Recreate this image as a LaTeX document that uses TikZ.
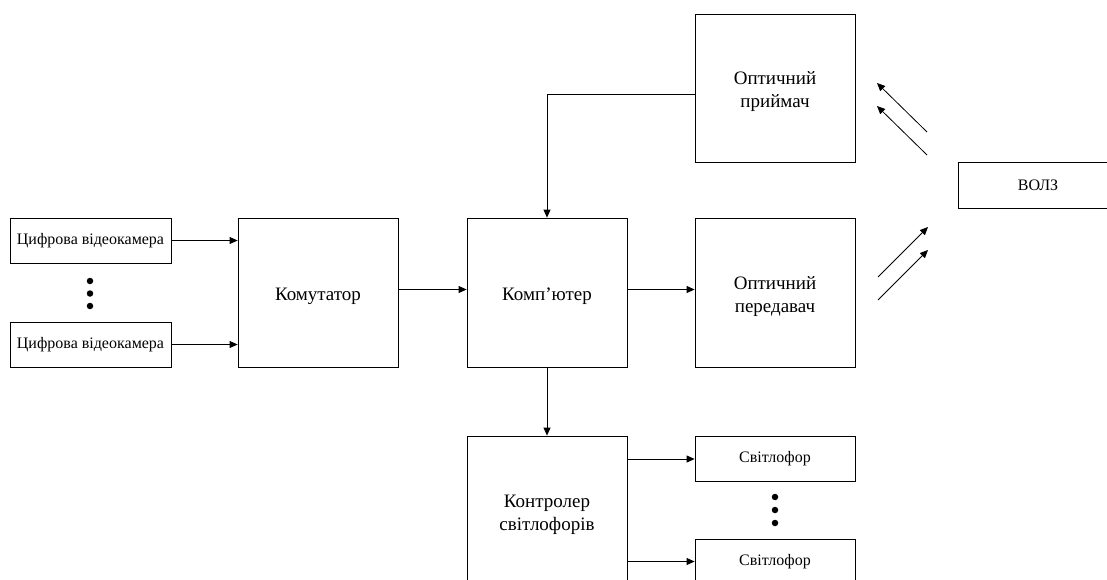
\documentclass[tikz,border=0pt]{standalone}
\usepackage{fontspec}
\setmainfont{Liberation Serif}
\usetikzlibrary{arrows.meta,calc}
\begin{document}
\begin{tikzpicture}[x=1pt,y=-1pt,
  box/.style={draw,line width=0.8pt,inner sep=0pt,align=center,font=\fontsize{19}{22}\selectfont},
  bigbox/.style={box,minimum width=160pt,minimum height=149pt},
  lbl/.style={align=center,font=\fontsize{19}{23}\selectfont,yshift=-4pt,inner sep=0pt},
  smallbox/.style={box,minimum width=161pt,minimum height=45pt,font=\fontsize{16}{18}\selectfont},
  conn/.style={line width=0.8pt,-{Triangle[length=8pt,width=7pt]}},
  dot/.style={circle,fill,inner sep=0pt,minimum size=6.5pt}]
\clip (0,0) rectangle (1107,580);
\useasboundingbox (0,0) rectangle (1107,580);
\node[smallbox] (cam1) at (90.5,240.5) {Цифрова відеокамера};
\node[smallbox] (cam2) at (90.5,344.5) {Цифрова відеокамера};
\node[dot] (d1) at (90,281) {};
\node[dot] (d2) at (90,293.5) {};
\node[dot] (d3) at (90,306) {};
\node[bigbox,label={[lbl]center:Комутатор}] (kom) at (318,292.5) {};
\node[bigbox,label={[lbl]center:Комп’ютер}] (pc) at (547,292.5) {};
\node[bigbox,label={[lbl]center:{Оптичний\\передавач}}] (tx) at (775,292.5) {};
\node[bigbox,minimum height=148pt,label={[lbl]center:{Оптичний\\приймач}}] (rx) at (775,88) {};
\node[bigbox,label={[lbl]center:{Контролер\\світлофорів}}] (ctrl) at (547,510.5) {};
\node[smallbox,minimum width=160pt] (s1) at (775,459) {Світлофор};
\node[smallbox,minimum width=160pt] (s2) at (775,561.5) {Світлофор};
\node[dot] (d4) at (775,497) {};
\node[dot] (d5) at (775,510) {};
\node[dot] (d6) at (775,523) {};
\node[smallbox,minimum width=160pt,minimum height=46pt] (volz) at (1038,185) {ВОЛЗ};
\draw[conn] (cam1.east) -- (cam1.east -| kom.west);
\draw[conn] (cam2.east) -- (cam2.east -| kom.west);
\draw[conn] ($(kom.east)+(0,-3)$) -- ($(pc.west)+(0,-3)$);
\draw[conn] ($(pc.east)+(0,-3)$) -- ($(tx.west)+(0,-3)$);
\draw[conn] ($(rx.west)+(0,6)$) -| (pc.north);
\draw[conn] (pc.south) -- (ctrl.north);
\draw[conn] (ctrl.east |- s1.west) -- (s1.west);
\draw[conn] (ctrl.east |- s2.west) -- (s2.west);
\coordinate (a1s) at (927,132); \coordinate (a1e) at (877,83);
\coordinate (a2s) at (927,155); \coordinate (a2e) at (877,106);
\coordinate (a3s) at (878,277); \coordinate (a3e) at (928,227);
\coordinate (a4s) at (878,300); \coordinate (a4e) at (928,250);
\draw[conn] (a1s) -- (a1e);
\draw[conn] (a2s) -- (a2e);
\draw[conn] (a3s) -- (a3e);
\draw[conn] (a4s) -- (a4e);
\end{tikzpicture}
\end{document}
